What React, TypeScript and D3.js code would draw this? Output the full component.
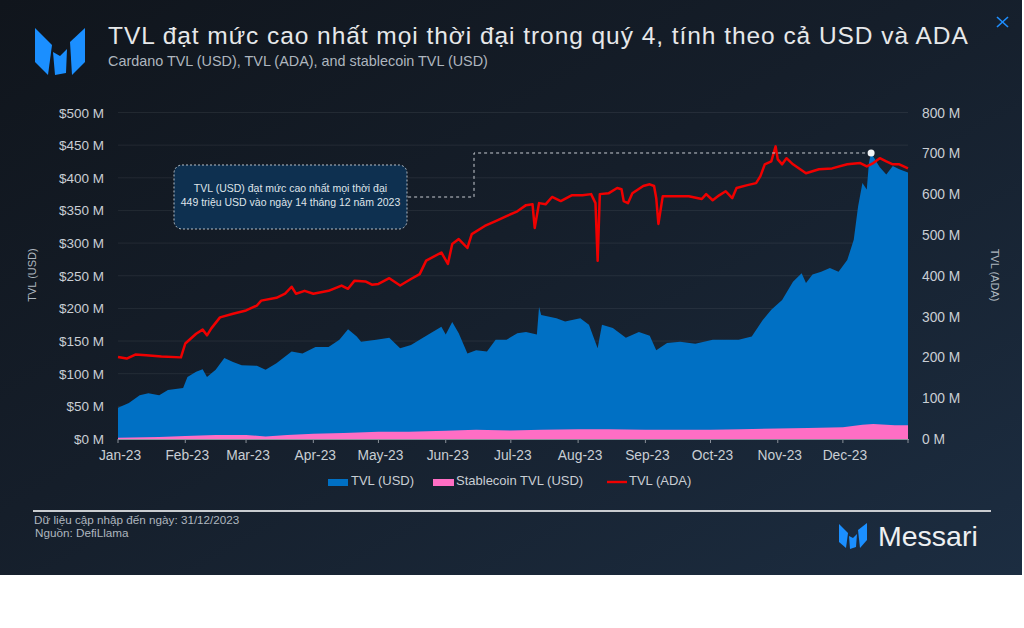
import React from 'react';
import * as d3 from 'd3';

// ---------- DATA ----------
const tvlUsdDates = [
  '2023-01-01','2023-01-06','2023-01-11','2023-01-15','2023-01-20','2023-01-24','2023-01-31','2023-02-02',
  '2023-02-06','2023-02-09','2023-02-11','2023-02-15','2023-02-19','2023-02-23','2023-02-27','2023-03-06',
  '2023-03-10','2023-03-15','2023-03-22','2023-03-27','2023-04-02','2023-04-08','2023-04-13','2023-04-17',
  '2023-04-21','2023-04-23','2023-04-30','2023-05-06','2023-05-11','2023-05-16','2023-05-24','2023-05-30',
  '2023-06-01','2023-06-04','2023-06-07','2023-06-11','2023-06-15','2023-06-20','2023-06-24','2023-06-29',
  '2023-07-04','2023-07-08','2023-07-13','2023-07-14','2023-07-15','2023-07-22','2023-07-26','2023-08-02',
  '2023-08-06','2023-08-10','2023-08-12','2023-08-17','2023-08-23','2023-08-29','2023-09-03','2023-09-06',
  '2023-09-11','2023-09-17','2023-09-24','2023-10-02','2023-10-10','2023-10-14','2023-10-20','2023-10-25',
  '2023-10-29','2023-11-03','2023-11-08','2023-11-12','2023-11-14','2023-11-17','2023-11-21','2023-11-25',
  '2023-11-29','2023-12-03','2023-12-06','2023-12-08','2023-12-10','2023-12-12','2023-12-13','2023-12-14',
  '2023-12-18','2023-12-21','2023-12-24','2023-12-27','2023-12-31',
];
const tvlUsdValues = [
  48, 55, 67, 70, 67, 75, 78, 95,
  103, 107, 95, 106, 124, 118, 113, 112,
  106, 116, 134, 131, 141, 141, 152, 168,
  157, 149, 152, 155, 139, 144, 160, 172,
  160, 179, 162, 131, 136, 134, 152, 152,
  162, 164, 160, 202, 190, 185, 180, 185,
  175, 139, 175, 170, 155, 164, 158, 136,
  147, 149, 146, 152, 152, 152, 157, 182,
  198, 213, 241, 254, 239, 252, 256, 262,
  256, 274, 305, 356, 392, 382, 423, 438,
  416, 405, 418, 413, 408,
];

const stableDates = [
  '2023-01-01','2023-01-20','2023-02-01','2023-02-15','2023-03-01','2023-03-10','2023-03-20','2023-04-01',
  '2023-04-15','2023-05-01','2023-05-15','2023-06-01','2023-06-15','2023-07-01','2023-07-15','2023-08-01',
  '2023-08-15','2023-09-01','2023-09-15','2023-10-01','2023-10-15','2023-11-01','2023-11-15','2023-12-01',
  '2023-12-10','2023-12-15','2023-12-25','2023-12-31',
];
const stableValues = [
  2, 3, 4.5, 6, 6, 4, 6, 8,
  9, 11, 11, 12.5, 14, 13, 14, 15,
  15, 14, 14, 14, 15, 16, 17, 18,
  22, 23, 21, 21,
];

const tvlAdaDates = [
  '2023-01-01','2023-01-05','2023-01-09','2023-01-14','2023-01-21','2023-01-30','2023-02-01','2023-02-06',
  '2023-02-09','2023-02-11','2023-02-13','2023-02-17','2023-02-23','2023-03-01','2023-03-06','2023-03-08',
  '2023-03-15','2023-03-19','2023-03-22','2023-03-24','2023-03-28','2023-04-01','2023-04-08','2023-04-14',
  '2023-04-17','2023-04-20','2023-04-25','2023-04-28','2023-05-01','2023-05-06','2023-05-11','2023-05-16',
  '2023-05-20','2023-05-23','2023-05-30','2023-06-02','2023-06-04','2023-06-07','2023-06-11','2023-06-13',
  '2023-06-19','2023-06-24','2023-06-29','2023-07-04','2023-07-08','2023-07-11','2023-07-12','2023-07-14',
  '2023-07-17','2023-07-20','2023-07-24','2023-07-29','2023-08-03','2023-08-07','2023-08-09','2023-08-10',
  '2023-08-11','2023-08-15','2023-08-19','2023-08-21','2023-08-22','2023-08-24','2023-08-26','2023-08-31',
  '2023-09-03','2023-09-05','2023-09-06','2023-09-07','2023-09-09','2023-09-13','2023-09-21','2023-09-27',
  '2023-09-29','2023-10-02','2023-10-05','2023-10-08','2023-10-11','2023-10-13','2023-10-18','2023-10-22',
  '2023-10-24','2023-10-26','2023-10-29','2023-10-31','2023-11-01','2023-11-03','2023-11-05','2023-11-08',
  '2023-11-14','2023-11-20','2023-11-26','2023-12-03','2023-12-09','2023-12-12','2023-12-15','2023-12-18',
  '2023-12-21','2023-12-24','2023-12-27','2023-12-31',
];
const tvlAdaValues = [
  201, 197, 207, 205, 202, 200, 234, 258,
  268, 254, 271, 298, 307, 315, 327, 339,
  346, 356, 373, 356, 363, 356, 363, 376,
  368, 388, 386, 378, 380, 394, 376, 392,
  404, 437, 457, 429, 478, 490, 468, 502,
  522, 534, 546, 558, 573, 575, 517, 578,
  575, 593, 583, 597, 597, 600, 578, 437,
  600, 602, 615, 612, 583, 578, 602, 620,
  624, 620, 590, 527, 595, 595, 595, 588,
  600, 585, 597, 607, 590, 615, 622, 627,
  644, 673, 680, 717, 685, 673, 688, 673,
  651, 661, 663, 673, 676, 668, 676, 688,
  680, 673, 673, 663,
];

const monthTicks = [
  '2023-01-01','2023-02-01','2023-03-01','2023-04-01','2023-05-01','2023-06-01',
  '2023-07-01','2023-08-01','2023-09-01','2023-10-01','2023-11-01','2023-12-01',
];
const monthLabels = ['Jan-23','Feb-23','Mar-23','Apr-23','May-23','Jun-23','Jul-23','Aug-23','Sep-23','Oct-23','Nov-23','Dec-23'];
const leftTicks = [0, 50, 100, 150, 200, 250, 300, 350, 400, 450, 500];
const rightTicks = [0, 100, 200, 300, 400, 500, 600, 700, 800];

const titleText = 'TVL đạt mức cao nhất mọi thời đại trong quý 4, tính theo cả USD và ADA';
const subtitleText = 'Cardano TVL (USD), TVL (ADA), and stablecoin TVL (USD)';
const noteLines = ['TVL (USD) đạt mức cao nhất mọi thời đại', '449 triệu USD vào ngày 14 tháng 12 năm 2023'];
const legendItems = ['TVL (USD)', 'Stablecoin TVL (USD)', 'TVL (ADA)'];

// ---------- LAYOUT ----------
const W = 1024;
const H = 628;
const PLOT = { left: 118, right: 908, top: 112.5, bottom: 439 };
const FONT = '"Liberation Sans", Arial, Helvetica, sans-serif';
const BLUE = '#0070c4';
const PINK = '#ff6ec4';
const RED = '#f00000';

const parse = (s: string) => new Date(s + 'T00:00:00Z');

export default function App() {
  const x = d3.scaleUtc().domain([parse('2023-01-01'), parse('2023-12-31')]).range([PLOT.left, PLOT.right]);
  const yL = d3.scaleLinear().domain([0, 500]).range([PLOT.bottom, PLOT.top]);
  const yR = d3.scaleLinear().domain([0, 800]).range([PLOT.bottom, PLOT.top]);

  const usd = tvlUsdDates.map((d, i) => ({ d: parse(d), v: tvlUsdValues[i] }));
  const stab = stableDates.map((d, i) => ({ d: parse(d), v: stableValues[i] }));
  const ada = tvlAdaDates.map((d, i) => ({ d: parse(d), v: tvlAdaValues[i] }));

  const areaL = d3.area<{ d: Date; v: number }>().x((p) => x(p.d)).y0(yL(0)).y1((p) => yL(p.v));
  const lineR = d3.line<{ d: Date; v: number }>().x((p) => x(p.d)).y((p) => yR(p.v));

  const peakIdx = d3.maxIndex(usd, (p) => p.v);
  const peak = usd[peakIdx];
  const px = x(peak.d);
  const py = yL(peak.v);

  return (
    <svg width={W} height={H} style={{ position: 'absolute', left: 0, top: 0 }} xmlns="http://www.w3.org/2000/svg">
      <defs>
        <linearGradient id="bg" x1="0" y1="0" x2="1" y2="1">
          <stop offset="0%" stopColor="#10151c" />
          <stop offset="45%" stopColor="#151e2a" />
          <stop offset="100%" stopColor="#1c2d41" />
        </linearGradient>
      </defs>
      <rect x={0} y={0} width={W} height={H} fill="#ffffff" />
      <rect x={0} y={0} width={1022} height={575} fill="url(#bg)" />

      {/* header logo */}
      <g fill="#1b8fff">
        <polygon points="35,28 52,45 48,75 35,62" />
        <polygon points="53,52 60,56 67,49 66,73 55,75" />
        <polygon points="70,42 85,28 85,62 72,75" />
      </g>
      <text x={108} y={44} fill="#e6e8ea" fontFamily={FONT} fontSize={24.5} letterSpacing={0.95}>{titleText}</text>
      <text x={108} y={66} fill="#aeb6bf" fontFamily={FONT} fontSize={14.4}>{subtitleText}</text>
      <g stroke="#1f8fff" strokeWidth={1.6}>
        <line x1={997} y1={17} x2={1008} y2={27} />
        <line x1={1008} y1={17} x2={997} y2={27} />
      </g>

      {/* gridlines */}
      <g stroke="#ffffff" strokeOpacity={0.07} strokeWidth={1}>
        {leftTicks.slice(1).map((t) => (
          <line key={t} x1={PLOT.left} x2={PLOT.right} y1={yL(t)} y2={yL(t)} />
        ))}
      </g>

      {/* series */}
      <path d={areaL(usd) || ''} fill={BLUE} />
      <path d={areaL(stab) || ''} fill={PINK} />
      <path d={lineR(ada) || ''} fill="none" stroke={RED} strokeWidth={2.5} strokeLinejoin="round" />

      {/* bottom axis */}
      <line x1={PLOT.left} x2={PLOT.right + 1} y1={PLOT.bottom + 0.5} y2={PLOT.bottom + 0.5} stroke="#8a9099" strokeWidth={1} />
      <g stroke="#8a9099" strokeWidth={1}>
        {monthTicks.map((m) => (
          <line key={m} x1={x(parse(m))} x2={x(parse(m))} y1={PLOT.bottom} y2={PLOT.bottom + 4} />
        ))}
        <line x1={PLOT.right} x2={PLOT.right} y1={PLOT.bottom} y2={PLOT.bottom + 4} />
      </g>
      <g fill="#c9ced4" fontFamily={FONT} fontSize={13.8} textAnchor="middle">
        {monthTicks.map((m, i) => (
          <text key={m} x={x(parse(m)) + 2} y={460}>{monthLabels[i]}</text>
        ))}
      </g>

      {/* left axis */}
      <g fill="#c9ced4" fontFamily={FONT} fontSize={13.5} textAnchor="end">
        {leftTicks.map((t) => (
          <text key={t} x={104} y={yL(t) + 5}>{`$${t} M`}</text>
        ))}
      </g>
      <text transform="translate(36,275) rotate(-90)" textAnchor="middle" fill="#aeb6bf" fontFamily={FONT} fontSize={11}>TVL (USD)</text>

      {/* right axis */}
      <g fill="#c9ced4" fontFamily={FONT} fontSize={13.8} textAnchor="start">
        {rightTicks.map((t) => (
          <text key={t} x={922} y={yR(t) + 5}>{`${t} M`}</text>
        ))}
      </g>
      <text transform="translate(991,275) rotate(90)" textAnchor="middle" fill="#aeb6bf" fontFamily={FONT} fontSize={11}>TVL (ADA)</text>

      {/* annotation */}
      <path d={`M${px},${py} H474 V197 H408`} fill="none" stroke="#c8ccd2" strokeWidth={1} strokeDasharray="3,3" />
      <circle cx={px} cy={py} r={3.5} fill="#f2f4f6" />
      <rect x={174} y={165} width={233} height={64} rx={8} fill="#0e3050" stroke="#b8c0c8" strokeWidth={1} strokeDasharray="2,2" />
      <g fill="#dfe4ea" fontFamily={FONT} fontSize={10.5} textAnchor="middle">
        <text x={290.5} y={192}>{noteLines[0]}</text>
        <text x={290.5} y={206}>{noteLines[1]}</text>
      </g>

      {/* legend */}
      <g fontFamily={FONT} fontSize={13} fill="#c9ced4">
        <rect x={328} y={479} width={20} height={7} fill={BLUE} />
        <text x={351} y={485}>{legendItems[0]}</text>
        <rect x={433} y={479} width={21} height={7} fill={PINK} />
        <text x={456} y={485}>{legendItems[1]}</text>
        <line x1={607} x2={627} y1={482} y2={482} stroke={RED} strokeWidth={2.4} />
        <text x={629} y={485}>{legendItems[2]}</text>
      </g>

      {/* footer */}
      <line x1={33} x2={991} y1={511} y2={511} stroke="#c9ccd0" strokeWidth={2} />
      <text x={34} y={524} fill="#aeb6bf" fontFamily={FONT} fontSize={11.7}>Dữ liệu cập nhập đến ngày: 31/12/2023</text>
      <text x={35} y={537} fill="#aeb6bf" fontFamily={FONT} fontSize={11.7}>Nguồn: DefiLlama</text>
      <g fill="#1b8fff">
        <polygon points="839,524 848,533 846,548 839,542" />
        <polygon points="849,536 853,538 857,534 856,547 850,549" />
        <polygon points="858,530 867,523 867,540 860,548" />
      </g>
      <text x={878} y={546} fill="#eef0f2" fontFamily={FONT} fontSize={28.5}>Messari</text>
    </svg>
  );
}
